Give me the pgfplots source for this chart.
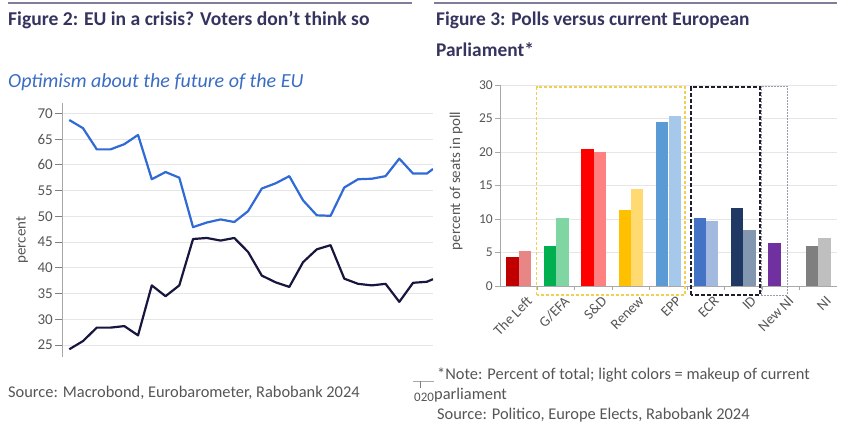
\documentclass[border=0pt]{standalone}
\usepackage{fontspec}
\setmainfont{Carlito}
\usepackage{pgfplots}
\pgfplotsset{compat=1.18}
\definecolor{titlec}{HTML}{34345E}
\definecolor{rulec}{HTML}{7E7E9A}
\definecolor{subc}{HTML}{3A6CC4}
\definecolor{srcc}{HTML}{555555}
\definecolor{gridc}{HTML}{E6E6E6}
\definecolor{axc}{HTML}{A8A8A8}
\definecolor{tkc}{HTML}{808080}
\definecolor{lblue}{HTML}{2F6AD6}
\definecolor{lnavy}{HTML}{16163E}
\definecolor{c1}{HTML}{C00000}\definecolor{c1l}{HTML}{E88585}
\definecolor{c2}{HTML}{00B050}\definecolor{c2l}{HTML}{80D6A2}
\definecolor{c3}{HTML}{FF0000}\definecolor{c3l}{HTML}{FF8080}
\definecolor{c4}{HTML}{FFC000}\definecolor{c4l}{HTML}{FFDA70}
\definecolor{c5}{HTML}{5B9BD5}\definecolor{c5l}{HTML}{A6C8EA}
\definecolor{c6}{HTML}{4472C4}\definecolor{c6l}{HTML}{A3B9E0}
\definecolor{c7}{HTML}{1F3864}\definecolor{c7l}{HTML}{8497B0}
\definecolor{c8}{HTML}{7030A0}
\definecolor{c9}{HTML}{7F7F7F}\definecolor{c9l}{HTML}{BFBFBF}
\definecolor{boxy}{HTML}{F0D050}
\definecolor{boxk}{HTML}{1E1E30}
\definecolor{boxg}{HTML}{9A9AA8}
\begin{document}
\begin{tikzpicture}[x=1pt,y=1pt]
\path[use as bounding box] (0,0) rectangle (848,427);
% header rules
\draw[rulec, line width=2.5pt] (8,424) -- (412,424);
\draw[rulec, line width=2.5pt] (434,424) -- (837,424);
% titles
\node[anchor=west, inner sep=0, text=titlec, font=\bfseries\fontsize{19.6}{22}\selectfont] at (8,407) {Figure 2: EU in a crisis? Voters don't think so};
\node[anchor=west, inner sep=0, text=subc, font=\itshape\fontsize{20}{22}\selectfont] at (8,345) {Optimism about the future of the EU};
\node[anchor=west, inner sep=0, text=titlec, font=\bfseries\fontsize{19.4}{22}\selectfont] at (436,407) {Figure 3: Polls versus current European};
\node[anchor=west, inner sep=0, text=titlec, font=\bfseries\fontsize{19.4}{22}\selectfont] at (436,377) {Parliament*};
% left chart
\begin{axis}[at={(62pt,70pt)}, anchor=south west, scale only axis,
  width=371pt, height=254pt,
  xmin=-0.53, xmax=26.45, ymin=22.7, ymax=72,
  axis x line*=bottom, axis y line*=left,
  x axis line style={draw=none}, y axis line style={draw=axc, line width=0.9pt},
  xtick=\empty, ytick={25,30,...,70},
  ymajorgrids, grid style={gridc, line width=0.8pt},
  tick align=outside, major tick length=7pt,
  y tick style={tkc, line width=0.9pt},
  /pgf/number format/assume math mode=true,
  yticklabel style={font=\fontsize{15}{17}\selectfont, text=srcc, inner sep=2pt},
  clip=true]
\addplot[lblue, line width=2.2pt, line join=round] coordinates {
(0,68.7)(1,67.1)(2,63.0)(3,63.0)(4,64.0)(5,65.8)(6,57.2)(7,58.6)(8,57.5)(9,47.9)
(10,48.8)(11,49.4)(12,48.9)(13,51.0)(14,55.4)(15,56.4)(16,57.8)(17,53.1)(18,50.2)(19,50.1)
(20,55.6)(21,57.2)(22,57.3)(23,57.8)(24,61.2)(25,58.3)(26,58.3)(26.45,59.2)};
\addplot[lnavy, line width=2.2pt, line join=round] coordinates {
(0,24.2)(1,25.8)(2,28.4)(3,28.4)(4,28.7)(5,26.9)(6,36.6)(7,34.5)(8,36.6)(9,45.6)
(10,45.8)(11,45.3)(12,45.8)(13,43.1)(14,38.5)(15,37.2)(16,36.3)(17,41.1)(18,43.6)(19,44.4)
(20,37.9)(21,36.9)(22,36.6)(23,36.9)(24,33.4)(25,37.1)(26,37.3)(26.45,37.8)};
\end{axis}
\node[rotate=90, inner sep=0, text=srcc, font=\fontsize{15}{17}\selectfont] at (22,187) {percent};
\node[anchor=west, inner sep=0, text=srcc, font=\fontsize{16.4}{18}\selectfont] at (8,34) {Source: Macrobond, Eurobarometer, Rabobank 2024};
% remnant of hidden x-axis
\draw[axc, line width=0.8pt] (413,46) -- (434,46);
\draw[tkc, line width=0.8pt] (420,46) -- (420,39);
\node[anchor=west, inner sep=0, text=srcc, font=\fontsize{13}{15}\selectfont] at (414,30) {020};
% right chart
\begin{axis}[at={(500pt,141pt)}, anchor=south west, scale only axis,
  width=337pt, height=201pt,
  xmin=-0.5, xmax=8.5, ymin=0, ymax=30, clip=false,
  axis x line*=bottom, axis y line*=left,
  axis line style={draw=axc, line width=0.8pt},
  xtick={0,...,8},
  xticklabels={The Left,G/EFA,S\&D,Renew,EPP,ECR,ID,New NI,NI},
  minor xtick={0.5,1.5,...,7.5},
  major x tick style={draw=none},
  minor x tick style={axc, line width=0.8pt},
  minor tick length=4pt,
  ytick={0,5,...,30},
  ymajorgrids, grid style={gridc, line width=0.8pt},
  tick align=outside, major tick length=5pt,
  y tick style={axc, line width=0.8pt},
  /pgf/number format/assume math mode=true,
  yticklabel style={font=\fontsize{13.5}{15}\selectfont, text=srcc, inner sep=2pt},
  xticklabel style={font=\fontsize{14.5}{16}\selectfont, text=srcc, rotate=45, anchor=north east, inner sep=1pt, yshift=-7pt, xshift=3pt},
  every axis plot/.append style={ybar, bar width=0.33, draw=none}]
\addplot[fill=c1,  bar shift=-0.167] coordinates {(0,4.33)};
\addplot[fill=c1l, bar shift=0.167]  coordinates {(0,5.18)};
\addplot[fill=c2,  bar shift=-0.167] coordinates {(1,5.98)};
\addplot[fill=c2l, bar shift=0.167]  coordinates {(1,10.2)};
\addplot[fill=c3,  bar shift=-0.167] coordinates {(2,20.4)};
\addplot[fill=c3l, bar shift=0.167]  coordinates {(2,20.0)};
\addplot[fill=c4,  bar shift=-0.167] coordinates {(3,11.3)};
\addplot[fill=c4l, bar shift=0.167]  coordinates {(3,14.5)};
\addplot[fill=c5,  bar shift=-0.167] coordinates {(4,24.5)};
\addplot[fill=c5l, bar shift=0.167]  coordinates {(4,25.4)};
\addplot[fill=c6,  bar shift=-0.167] coordinates {(5,10.2)};
\addplot[fill=c6l, bar shift=0.167]  coordinates {(5,9.7)};
\addplot[fill=c7,  bar shift=-0.167] coordinates {(6,11.7)};
\addplot[fill=c7l, bar shift=0.167]  coordinates {(6,8.4)};
\addplot[fill=c8,  bar shift=-0.167] coordinates {(7,6.4)};
\addplot[fill=c9,  bar shift=-0.167] coordinates {(8,5.9)};
\addplot[fill=c9l, bar shift=0.167]  coordinates {(8,7.1)};
\draw[boxy, line width=1.2pt, dash pattern=on 3pt off 2pt] (axis cs:0.48,-1.34) rectangle (axis cs:4.44,29.7);
\draw[boxk, line width=2pt, dash pattern=on 4pt off 2pt] (axis cs:4.6,-1.34) rectangle (axis cs:6.44,29.7);
\draw[boxg, line width=0.8pt, dash pattern=on 1.5pt off 1.5pt] (axis cs:6.47,-1.34) rectangle (axis cs:7.17,29.8);
\end{axis}
\node[rotate=90, inner sep=0, text=srcc, font=\fontsize{15}{17}\selectfont] at (456,246) {percent of seats in poll};
\node[anchor=west, inner sep=0, text=srcc, font=\fontsize{16.4}{18}\selectfont] at (437,52) {*Note: Percent of total; light colors = makeup of current};
\node[anchor=west, inner sep=0, text=srcc, font=\fontsize{16.4}{18}\selectfont] at (434,32) {parliament};
\node[anchor=west, inner sep=0, text=srcc, font=\fontsize{16.4}{18}\selectfont] at (437,12) {Source: Politico, Europe Elects, Rabobank 2024};
\end{tikzpicture}
\end{document}
